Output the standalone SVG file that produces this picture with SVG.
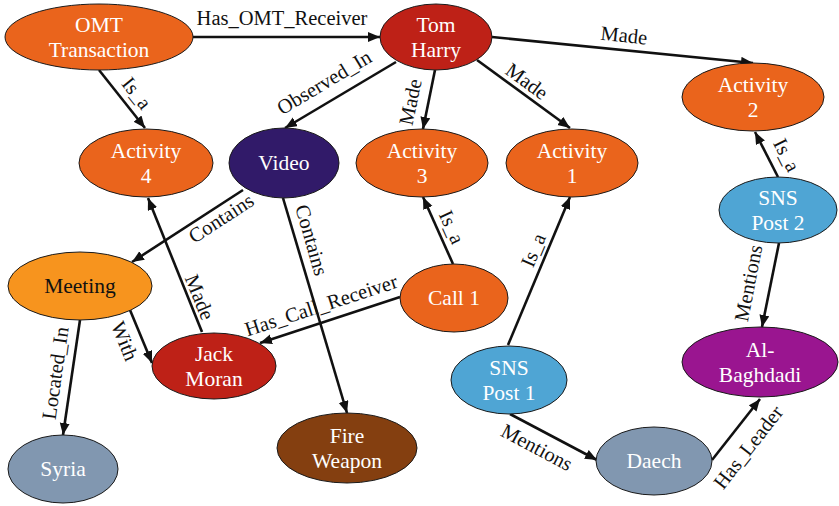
<svg xmlns="http://www.w3.org/2000/svg" width="839" height="506" viewBox="0 0 839 506">
<style>
.n ellipse{stroke:#1a1a1a;stroke-width:1}
.n text{font-family:"Liberation Serif","DejaVu Serif",serif;font-size:21.5px;fill:#fff;text-anchor:middle}
.n text.dk{fill:#111}
.e line{stroke:#111;stroke-width:2.6;marker-end:url(#ah)}
.e text{font-family:"Liberation Serif","DejaVu Serif",serif;font-size:20.5px;fill:#111;text-anchor:middle}
.or{fill:#EA641C}.rd{fill:#BE2117}.vd{fill:#311A69}.mt{fill:#F7941E}.gy{fill:#8197B0}.br{fill:#843F10}.bl{fill:#4FA5D4}.pu{fill:#9A1590}
</style>
<defs>
<marker id="ah" markerUnits="userSpaceOnUse" markerWidth="13" markerHeight="11" refX="12" refY="5" orient="auto">
<path d="M0,0 L12,5 L0,10 z" fill="#111"/>
</marker>
</defs>
<g id="edges" class="e">
<line x1="193" y1="37" x2="380" y2="37"/>
<text x="282" y="25">Has_OMT_Receiver</text>
<line x1="99" y1="70" x2="145" y2="128"/>
<text transform="translate(137,93) rotate(51.6)" dy=".35em">Is_a</text>
<line x1="396" y1="62" x2="285" y2="128"/>
<text transform="translate(324,82) rotate(-31)" dy=".35em">Observed_In</text>
<line x1="435" y1="70" x2="423" y2="129"/>
<text transform="translate(410,102) rotate(-78)" dy=".35em">Made</text>
<line x1="477" y1="60" x2="570" y2="128"/>
<text transform="translate(527,81) rotate(36)" dy=".35em">Made</text>
<line x1="492" y1="37" x2="753" y2="63"/>
<text transform="translate(624,35) rotate(6)" dy=".35em">Made</text>
<line x1="778" y1="177" x2="755" y2="132"/>
<text transform="translate(787,155) rotate(63)" dy=".35em">Is_a</text>
<line x1="243" y1="190" x2="132" y2="262"/>
<text transform="translate(221,218) rotate(-33)" dy=".35em">Contains</text>
<line x1="283" y1="198" x2="347" y2="413"/>
<text transform="translate(312,240) rotate(74)" dy=".35em">Contains</text>
<line x1="202" y1="332" x2="148" y2="198"/>
<text transform="translate(200,297) rotate(68)" dy=".35em">Made</text>
<line x1="130" y1="310" x2="152" y2="363"/>
<text transform="translate(125,341) rotate(68)" dy=".35em">With</text>
<line x1="80" y1="320" x2="63" y2="435"/>
<text transform="translate(55,373) rotate(-82)" dy=".35em">Located_In</text>
<line x1="400" y1="297" x2="260" y2="343"/>
<text transform="translate(321,305) rotate(-18)" dy=".35em">Has_Call_Receiver</text>
<line x1="453" y1="264" x2="423" y2="197"/>
<text transform="translate(452,227) rotate(66)" dy=".35em">Is_a</text>
<line x1="508" y1="345" x2="570" y2="197"/>
<text transform="translate(533,250) rotate(-67)" dy=".35em">Is_a</text>
<line x1="510" y1="414" x2="597" y2="460"/>
<text transform="translate(537,447) rotate(28)" dy=".35em">Mentions</text>
<line x1="779" y1="243" x2="762" y2="327"/>
<text transform="translate(748,283) rotate(-79)" dy=".35em">Mentions</text>
<line x1="712" y1="460" x2="760" y2="399"/>
<text transform="translate(748,447) rotate(-52)" dy=".35em">Has_Leader</text>
</g>
<g id="omt" class="n"><ellipse class="or" cx="99" cy="37" rx="94" ry="33"/><text x="99" y="32">OMT</text><text x="99" y="57">Transaction</text></g>
<g id="tomharry" class="n"><ellipse class="rd" cx="436" cy="37" rx="56" ry="33"/><text x="436" y="32">Tom</text><text x="436" y="57">Harry</text></g>
<g id="activity4" class="n"><ellipse class="or" cx="146" cy="163" rx="67" ry="34"/><text x="146" y="158">Activity</text><text x="146" y="183">4</text></g>
<g id="video" class="n"><ellipse class="vd" cx="284" cy="163" rx="55" ry="35"/><text x="284" y="170">Video</text></g>
<g id="activity3" class="n"><ellipse class="or" cx="422" cy="163" rx="66" ry="34"/><text x="422" y="158">Activity</text><text x="422" y="183">3</text></g>
<g id="activity1" class="n"><ellipse class="or" cx="572" cy="163" rx="66" ry="34"/><text x="572" y="158">Activity</text><text x="572" y="183">1</text></g>
<g id="activity2" class="n"><ellipse class="or" cx="753" cy="97" rx="71" ry="34"/><text x="753" y="92">Activity</text><text x="753" y="117">2</text></g>
<g id="snspost2" class="n"><ellipse class="bl" cx="778" cy="210" rx="59" ry="33"/><text x="778" y="205">SNS</text><text x="778" y="230">Post 2</text></g>
<g id="meeting" class="n"><ellipse class="mt" cx="80" cy="286" rx="72" ry="34"/><text class="dk" x="80" y="293">Meeting</text></g>
<g id="jackmoran" class="n"><ellipse class="rd" cx="214" cy="366" rx="62" ry="33"/><text x="214" y="361">Jack</text><text x="214" y="386">Moran</text></g>
<g id="call1" class="n"><ellipse class="or" cx="454" cy="298" rx="54" ry="34"/><text x="454" y="305">Call 1</text></g>
<g id="snspost1" class="n"><ellipse class="bl" cx="509" cy="380" rx="58" ry="34"/><text x="509" y="375">SNS</text><text x="509" y="400">Post 1</text></g>
<g id="albaghdadi" class="n"><ellipse class="pu" cx="760" cy="362" rx="78" ry="35"/><text x="760" y="357">Al-</text><text x="760" y="382">Baghdadi</text></g>
<g id="daech" class="n"><ellipse class="gy" cx="654" cy="461" rx="58" ry="34"/><text x="654" y="468">Daech</text></g>
<g id="syria" class="n"><ellipse class="gy" cx="63" cy="469" rx="55" ry="34"/><text x="63" y="476">Syria</text></g>
<g id="fireweapon" class="n"><ellipse class="br" cx="347" cy="448" rx="70" ry="35"/><text x="347" y="443">Fire</text><text x="347" y="468">Weapon</text></g>
</svg>
